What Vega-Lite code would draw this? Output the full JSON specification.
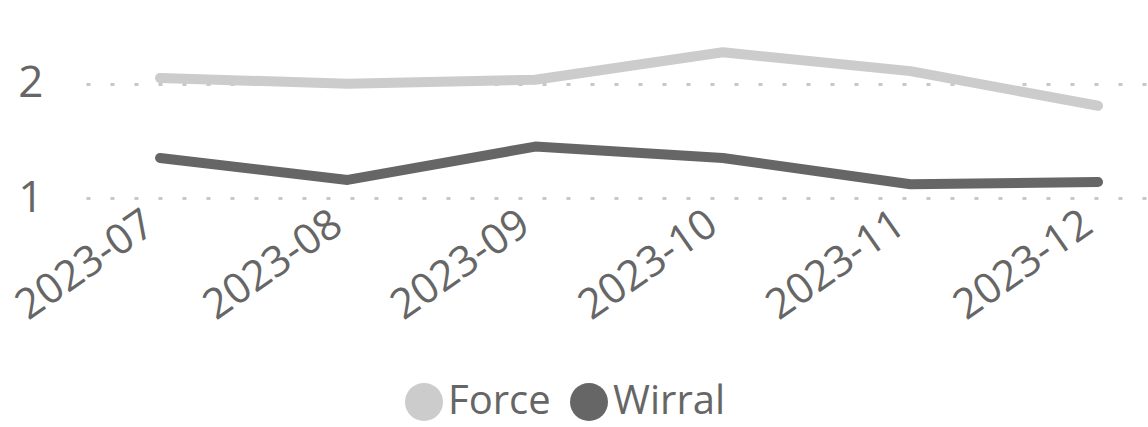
{
  "$schema": "https://vega.github.io/schema/vega-lite/v6.json",
  "autosize": "none",
  "width": 1062,
  "height": 160,
  "padding": {"left": 86, "top": 38, "right": 0, "bottom": 229},
  "background": "white",
  "config": {
    "font": "Open Sans",
    "view": {"stroke": null},
    "axis": {"labelFont": "Open Sans", "labelColor": "#666666"},
    "legend": {"labelFont": "Open Sans", "labelColor": "#666666"}
  },
  "data": {
    "values": [
      {"month": "2023-07", "series": "Force", "value": 2.05},
      {"month": "2023-08", "series": "Force", "value": 2.0},
      {"month": "2023-09", "series": "Force", "value": 2.035},
      {"month": "2023-10", "series": "Force", "value": 2.275},
      {"month": "2023-11", "series": "Force", "value": 2.11},
      {"month": "2023-12", "series": "Force", "value": 1.807},
      {"month": "2023-07", "series": "Wirral", "value": 1.35},
      {"month": "2023-08", "series": "Wirral", "value": 1.158},
      {"month": "2023-09", "series": "Wirral", "value": 1.45},
      {"month": "2023-10", "series": "Wirral", "value": 1.35},
      {"month": "2023-11", "series": "Wirral", "value": 1.12},
      {"month": "2023-12", "series": "Wirral", "value": 1.14}
    ]
  },
  "mark": {"type": "line", "strokeWidth": 10, "strokeCap": "round", "strokeJoin": "round"},
  "encoding": {
    "x": {
      "field": "month",
      "type": "ordinal",
      "scale": {"type": "point", "padding": 0.3305, "align": 0.597},
      "axis": {
        "title": null,
        "domain": false,
        "ticks": false,
        "grid": false,
        "labelAngle": -35,
        "labelFontSize": 42,
        "labelPadding": 5,
        "labelOffset": -22
      }
    },
    "y": {
      "field": "value",
      "type": "quantitative",
      "scale": {"domain": [1, 2.4], "nice": false, "zero": false},
      "axis": {
        "title": null,
        "domain": false,
        "ticks": false,
        "values": [1, 2],
        "format": "d",
        "labelFontSize": 44,
        "labelPadding": 43,
        "grid": true,
        "gridColor": "#c8c8c8",
        "gridWidth": 3,
        "gridDash": [4, 20]
      }
    },
    "color": {
      "field": "series",
      "type": "nominal",
      "scale": {"domain": ["Force", "Wirral"], "range": ["#cccccc", "#666666"]},
      "legend": {
        "title": null,
        "orient": "none",
        "direction": "horizontal",
        "legendX": 318,
        "legendY": 344,
        "symbolType": "circle",
        "symbolSize": 1444,
        "symbolFillOpacity": 1,
        "symbolStrokeWidth": 0,
        "labelFontSize": 40,
        "labelOffset": 4,
        "columnPadding": 18,
        "encode": {
          "symbols": {
            "update": {
              "fill": {"scale": "color", "field": "value"},
              "fillOpacity": {"value": 1},
              "strokeWidth": {"value": 0}
            }
          }
        }
      }
    }
  }
}
